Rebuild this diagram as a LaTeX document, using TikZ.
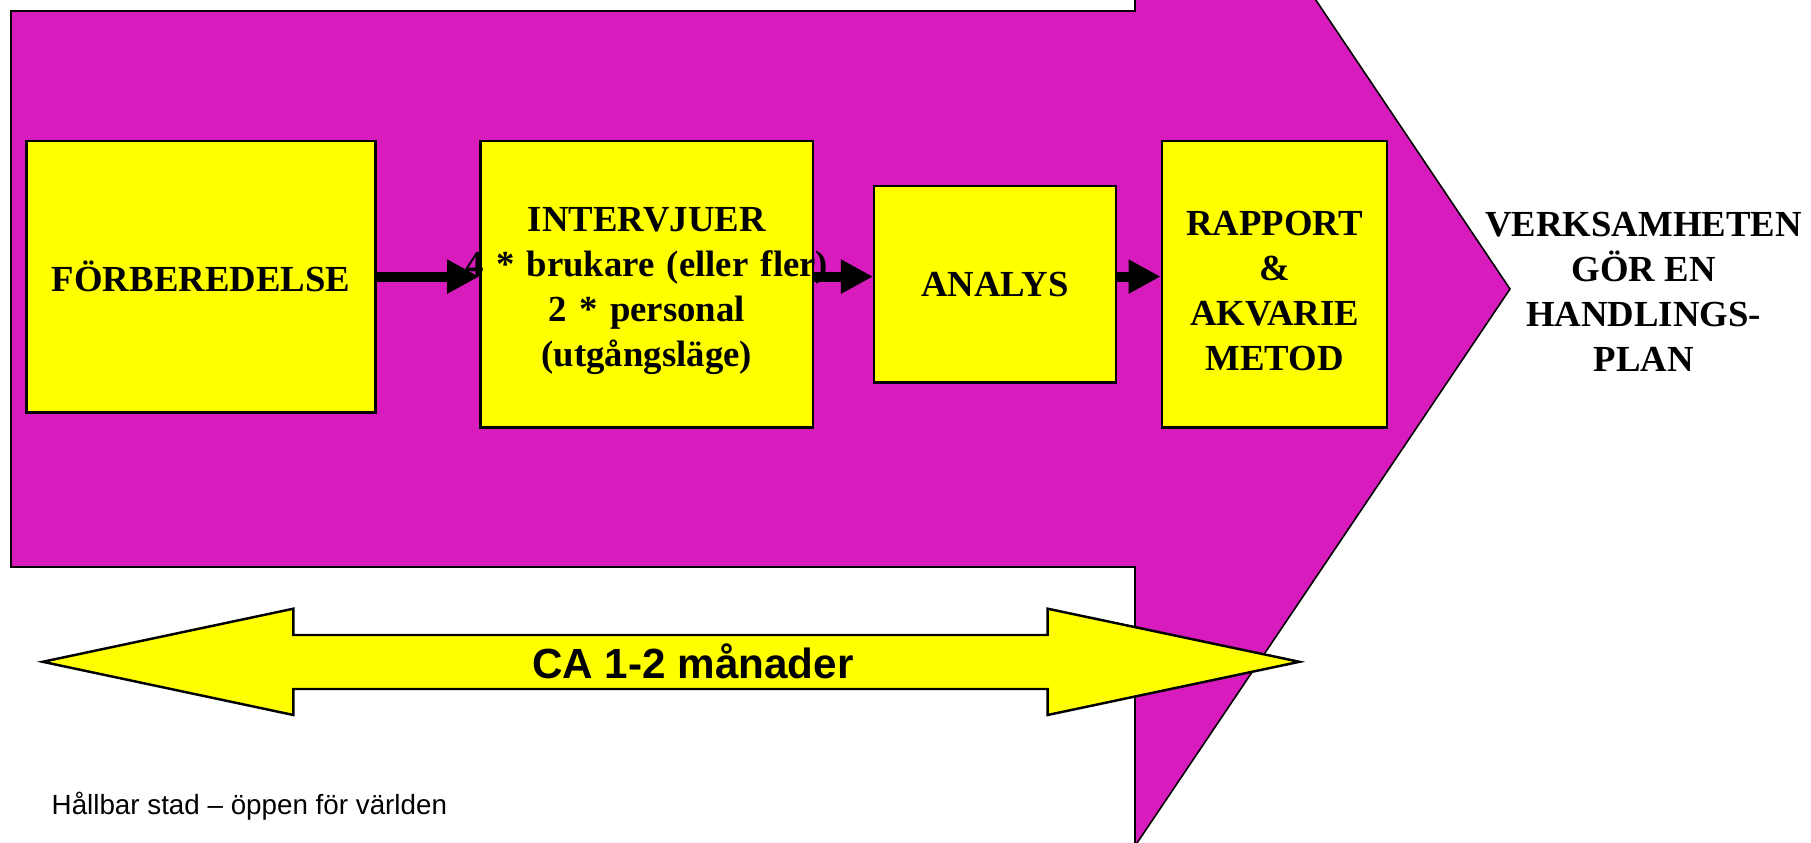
\documentclass[tikz,border=0pt]{standalone}
\usepackage{fontspec}
\setmainfont{Liberation Serif}
\setsansfont{Liberation Sans}
\usepackage{tikz}
\usetikzlibrary{arrows.meta,positioning}
\definecolor{phasemag}{HTML}{D71BBD}
\definecolor{stepyel}{HTML}{FFFF00}
\newcommand{\capstrut}{\rule{0pt}{3.85mm}}
\tikzset{
  phasebox/.style={draw=black,fill=stepyel,line width=0.7pt,align=center,
                   inner sep=0pt,font=\fontsize{10.45}{12.8}\selectfont\bfseries},
  outcome/.style={align=center,inner sep=0pt,
                  font=\fontsize{10.45}{12.8}\selectfont\bfseries},
  bigarrow/.style={draw=black,fill=phasemag,line width=0.45pt},
  spanarrow/.style={draw=black,fill=stepyel,line width=0.7pt},
  flow/.style={-{Triangle[length=3.2mm,width=3.2mm]},line width=2.8pt,
               draw=black},
  spanlabel/.style={inner sep=0pt,font=\sffamily\bfseries\fontsize{12}{14}\selectfont},
  footnote/.style={inner sep=0pt,font=\sffamily\fontsize{7.9}{9.5}\selectfont}
}

\begin{document}
\begin{tikzpicture}[x=0.01cm,y=-0.01cm]
    \path[use as bounding box] (0,0) rectangle (1811,843);
    \clip (0,0) rectangle (1811,843);

    % the phase arrow
    \filldraw[bigarrow] (11,11) -- (1135,11) -- (1135,-269) -- (1510,289)
      -- (1135,846) -- (1135,567) -- (11,567) -- cycle;

    \node[phasebox,minimum width=3.49cm,minimum height=2.714cm]
      (forbered) at (201,276.6) {FÖRBEREDELSE};
    \node[phasebox,text width=3.326cm,minimum height=2.865cm]
      (intervju) at (646.8,284.2)
      {\capstrut INTERVJUER\\
       \makebox[\linewidth]{4 * brukare (eller fler)}\\
       2 * personal\\
       (utgångsläge)};
    \node[phasebox,minimum width=2.414cm,minimum height=1.963cm]
      (analys) at (995,284.2) {ANALYS};
    \node[phasebox,minimum width=2.253cm,minimum height=2.865cm]
      (rapport) at (1274.5,284.2)
      {\capstrut RAPPORT\\ \&\\ AKVARIE\\ METOD};

    \node[outcome] (handling) at (1643.6,284.7)
      {\capstrut VERKSAMHETEN\\ GÖR EN\\ HANDLINGS-\\ PLAN};

    \draw[flow] (forbered.east) -- (forbered.east -| intervju.west);
    \draw[flow] (forbered.east -| intervju.east) -- (forbered.east -| analys.west);
    \draw[flow] (forbered.east -| analys.east) -- (forbered.east -| rapport.west);

    % duration
    \filldraw[spanarrow] (42.7,661.8) -- (293.4,608.7) -- (293.4,635)
      -- (1047.6,635) -- (1047.6,608.7) -- (1299.4,661.8) -- (1047.6,715)
      -- (1047.6,689) -- (293.4,689) -- (293.4,715) -- cycle;
    \node[spanlabel] (period) at (693,661.8) {CA 1-2 månader};

    \node[footnote,anchor=base west] (footer) at (51,815)
      {Hållbar stad – öppen för världen};
  \end{tikzpicture}
\end{document}
